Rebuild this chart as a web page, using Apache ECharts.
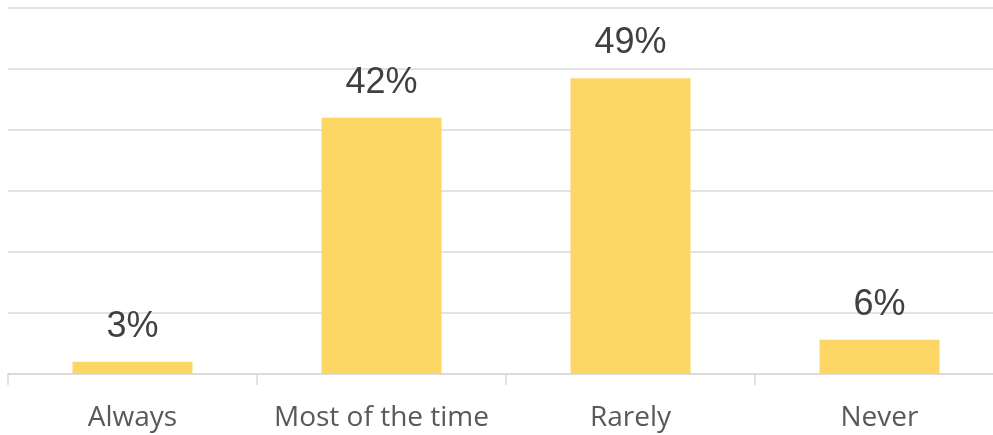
<!DOCTYPE html>
<html>
<head>
<meta charset="utf-8">
<script src="https://cdn.jsdelivr.net/npm/echarts@6/dist/echarts.min.js"></script>
<style>
html,body{margin:0;padding:0;background:#fff;overflow:hidden;width:993px;height:435px;}
#chart{width:1004px;height:435px;}
</style>
</head>
<body>
<div id="chart"></div>
<script>
const categories = ["Always", "Most of the time", "Rarely", "Never"];
const values = [2.0, 42, 48.5, 5.6];
const labelTexts = ["3%", "42%", "49%", "6%"];
const yTicks = [0, 10, 20, 30, 40, 50, 60];

const chart = echarts.init(document.getElementById('chart'), null, {renderer: 'canvas'});
chart.setOption({
  animation: false,
  backgroundColor: '#ffffff',
  grid: {left: 8, top: 8, right: 0, bottom: 61, containLabel: false},
  xAxis: {
    type: 'category',
    data: categories,
    axisLine: {show: true, lineStyle: {color: '#D9D9D9', width: 1.5}},
    axisTick: {show: true, length: 11, alignWithLabel: false, lineStyle: {color: '#D9D9D9', width: 1.5}},
    axisLabel: {color: '#595959', fontSize: 28, fontFamily: 'Open Sans', margin: 30, interval: 0}
  },
  yAxis: {
    type: 'value',
    min: yTicks[0],
    max: yTicks[yTicks.length - 1],
    interval: 10,
    axisLine: {show: false},
    axisTick: {show: false},
    axisLabel: {show: false},
    splitLine: {show: true, lineStyle: {color: '#D9D9D9', width: 1.5}}
  },
  series: [{
    type: 'bar',
    data: values,
    barWidth: 120,
    itemStyle: {color: '#FDD766'},
    label: {
      show: true,
      position: 'top',
      distance: 17,
      color: '#404040',
      fontSize: 36,
      fontFamily: 'Liberation Sans',
      formatter: p => labelTexts[p.dataIndex]
    }
  }]
});
</script>
</body>
</html>
